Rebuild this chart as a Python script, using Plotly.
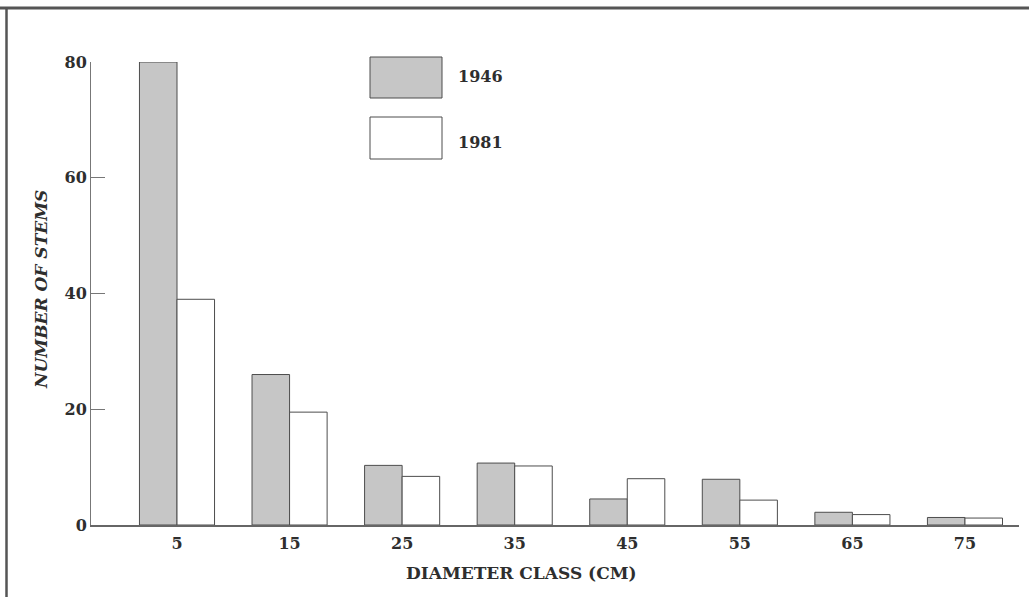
import plotly.graph_objects as go

classes = [5, 15, 25, 35, 45, 55, 65, 75]
stems_1946 = [80, 26, 10.3, 10.7, 4.5, 7.9, 2.2, 1.3]
stems_1981 = [39, 19.5, 8.4, 10.2, 8.0, 4.3, 1.8, 1.2]
series_names = ["1946", "1981"]
y_ticks = [0, 20, 40, 60, 80]

GRAY = "#c6c6c6"
EDGE = "#4d4d4d"
FONT = "DejaVu Serif"
TXT = "#2e2e2e"

W, H = 1029, 597
L, R, T, B = 91, 10, 62, 72
pw, ph = W - L - R, H - T - B

def px_x(x):
    return (x - L) / pw

def px_y(y):
    return (H - B - y) / ph

fig = go.Figure()
fig.add_trace(go.Bar(x=classes, y=stems_1946, name=series_names[0],
                     marker=dict(color=GRAY, line=dict(color=EDGE, width=1))))
fig.add_trace(go.Bar(x=classes, y=stems_1981, name=series_names[1],
                     marker=dict(color="white", line=dict(color=EDGE, width=1))))

fig.update_layout(
    width=W, height=H,
    margin=dict(l=L, r=R, t=T, b=B, pad=0),
    paper_bgcolor="white", plot_bgcolor="white",
    barmode="group", bargap=0.333, bargroupgap=0,
    showlegend=False,
    font=dict(family=FONT, color=TXT),
)
fig.update_xaxes(range=[-2.64, 79.8], tickvals=classes, ticktext=[str(c) for c in classes],
                 showgrid=False, zeroline=False, showline=True, linecolor="#666666", linewidth=1.5,
                 ticks="", tickfont=dict(size=16, family=FONT, color=TXT, weight="bold"),
                 ticklabelstandoff=3)
fig.update_yaxes(range=[0, 80], tickvals=y_ticks, showgrid=False, zeroline=False,
                 showline=True, linecolor="#777777", linewidth=1,
                 ticks="inside", ticklen=14, tickcolor="#777777", tickwidth=1,
                 tickfont=dict(size=16, family=FONT, color=TXT, weight="bold"))

# y title
fig.add_annotation(xref="paper", yref="paper", x=px_x(41), y=px_y(290),
                   text="<i>NUMBER OF STEMS</i>", showarrow=False, textangle=-90,
                   font=dict(size=17, family=FONT, color=TXT, weight="bold"),
                   xanchor="center", yanchor="middle")
# x title
fig.add_annotation(xref="paper", yref="paper", x=px_x(521), y=px_y(573),
                   text="DIAMETER CLASS (CM)", showarrow=False,
                   font=dict(size=17, family=FONT, color=TXT, weight="bold"),
                   xanchor="center", yanchor="middle")

# legend boxes
fig.add_shape(type="rect", xref="paper", yref="paper",
              x0=px_x(370), x1=px_x(442), y0=px_y(98), y1=px_y(57),
              fillcolor=GRAY, line=dict(color=EDGE, width=1))
fig.add_shape(type="rect", xref="paper", yref="paper",
              x0=px_x(370), x1=px_x(442), y0=px_y(159), y1=px_y(117),
              fillcolor="white", line=dict(color=EDGE, width=1))
for name, yy in zip(series_names, [77, 142]):
    fig.add_annotation(xref="paper", yref="paper", x=px_x(456), y=px_y(yy),
                       text=name, showarrow=False, xanchor="left", yanchor="middle",
                       font=dict(size=16, family=FONT, color=TXT, weight="bold"))

# frame lines (top and left)
fig.add_shape(type="line", xref="paper", yref="paper",
              x0=px_x(0), x1=px_x(W), y0=px_y(8), y1=px_y(8),
              line=dict(color="#555555", width=3))
fig.add_shape(type="line", xref="paper", yref="paper",
              x0=px_x(6.5), x1=px_x(6.5), y0=px_y(8), y1=px_y(H),
              line=dict(color="#555555", width=2.5))

fig.write_html("out.html", config={"displayModeBar": False},
               post_script="document.body.style.margin='0';document.body.style.overflow='hidden';")
